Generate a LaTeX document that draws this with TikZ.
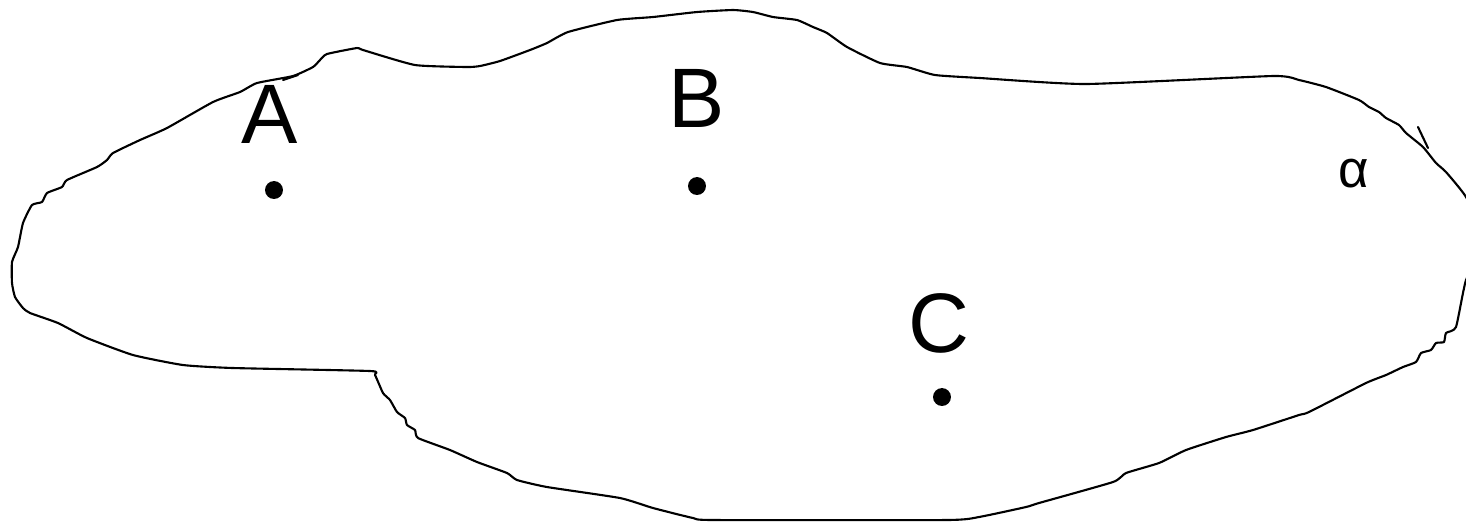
\documentclass[tikz,border=0pt]{standalone}
\usepackage{fontspec}
\setmainfont{Liberation Sans}
\usepackage{tikz}
\tikzset{
  rim/.style={draw=black, line width=0.6pt, line cap=round, line join=round},
  dot/.style={circle, fill=black, inner sep=0pt, minimum size=5.1pt},
  lab/.style={font=\fontsize{24}{24}\selectfont, inner sep=0pt},
  labs/.style={font=\fontsize{15}{15}\selectfont, inner sep=0pt},
}
\begin{document}
\begin{tikzpicture}[x=0.01cm, y=-0.01cm]
  \useasboundingbox (0,0) rectangle (1466,526);
  \clip (0,0) rectangle (1466,526);

  % plane outline
  \draw[rim] plot[smooth cycle, tension=0.3] coordinates {
    (357,48) (363,50) (415,65) (467,67) (480,66) (500,61) (530,50) (547,43)
    (568,32) (617,20) (653,17) (697,12) (733,10) (753,12) (773,17) (797,20)
    (813,27) (827,33) (847,47) (880,63) (907,67) (935,75) (980,78) (1086,84)
    (1273,76) (1299,80) (1326,87) (1359,100) (1369,107) (1379,112) (1386,118)
    (1399,125) (1406,133) (1423,147) (1436,163) (1446,172) (1466,197)
    (1485,240) (1466,280) (1456,327) (1446,333) (1444,342) (1436,343)
    (1431,350) (1421,353) (1416,362) (1403,367) (1386,375) (1366,383)
    (1309,412) (1299,415) (1253,430) (1226,437) (1186,450) (1159,463)
    (1126,473) (1113,482) (1039,503) (1026,507) (979,517) (947,520)
    (713,520) (693,518) (653,508) (620,498) (547,487) (517,480) (507,473)
    (477,462) (450,450) (418,438) (415,430) (407,425) (405,418) (397,412)
    (390,400) (383,393) (375,375) (370,371) (233,368) (183,365) (133,355)
    (87,338) (58,323) (30,313) (23,308) (15,297) (12,283) (12,262) (18,247)
    (23,223) (32,205) (42,202) (47,193) (62,187) (67,180) (97,167) (107,160)
    (113,153) (140,140) (167,128) (213,102) (240,92) (257,83) (293,76)
    (313,67) (320,60) (327,54)};
  \draw[rim] (283,80) -- (298,75);
  \draw[rim] (1418,127) -- (1428,148);

  % points
  \node[dot] (A) at (274,190) {};
  \node[dot] (B) at (697,186) {};
  \node[dot] (C) at (942,397) {};
  \node[lab] (labA) at (270,114) {A};
  \node[lab] (labB) at (697,98) {B};
  \node[lab] (labC) at (939,323) {C};
  \node[labs] (alpha) at (1354,174) {α};
\end{tikzpicture}
\end{document}
